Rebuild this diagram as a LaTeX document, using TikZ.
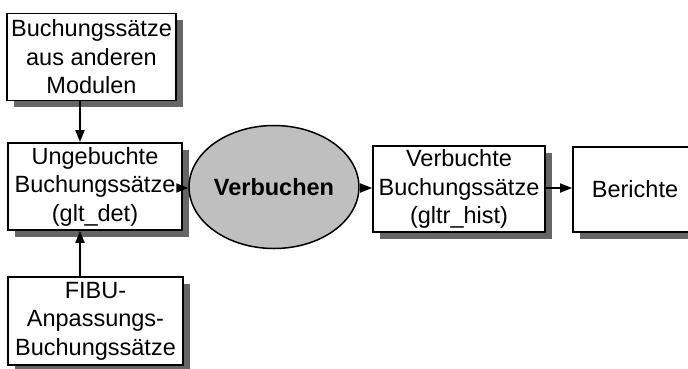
\documentclass[tikz,border=0pt]{standalone}
\usepackage{fontspec}
\setmainfont{Liberation Sans}
\usetikzlibrary{arrows.meta,shapes.geometric,shadows}
\begin{document}
\begin{tikzpicture}[x=1pt,y=-1pt,
  txt/.style={font=\fontsize{23.5}{28.5}\selectfont, align=center},
  box/.style={txt, draw, line width=1.8pt, fill=white, inner sep=0pt,
    drop shadow={shadow xshift=6.5pt, shadow yshift=-6.5pt, fill=black!60, opacity=1}},
  proc/.style={ellipse, draw, line width=1.5pt, fill=black!25, inner sep=0pt,
    font=\fontsize{23.5}{28.5}\selectfont\bfseries},
  arr/.style={line width=1.8pt, -{Triangle[length=12pt,width=9pt]}}]
\useasboundingbox (0,0) rectangle (688,368);
\clip (0,0) rectangle (688,368);
\fill[white] (0,0) rectangle (688,368);
\node[box, minimum width=169pt, minimum height=87pt] (top) at (91.5,57) {Buchungssätze\\aus anderen\\Modulen};
\node[box, minimum width=174pt, minimum height=87pt] (mid) at (95,186.5) {Ungebuchte\\Buchungssätze\\(glt\_det)};
\node[box, minimum width=175pt, minimum height=88pt] (bot) at (95.5,321) {FIBU-\\Anpassungs-\\Buchungssätze};
\node[proc, minimum width=138pt, minimum height=123pt] (verb) at (274,187) {Verbuchen};
\node[box, minimum width=172pt, minimum height=86pt] (hist) at (459,189) {Verbuchte\\Buchungssätze\\(gltr\_hist)};
\node[box, minimum width=124pt, minimum height=85pt] (ber) at (635,189.5) {Berichte};
\coordinate (ax) at (80,0);
\coordinate (ay) at (0,188);
\draw[arr] (top.south -| ax) -- (mid.north -| ax);
\draw[arr] (bot.north -| ax) -- (mid.south -| ax);
\draw[arr] (mid.east |- ay) -- (verb.west |- ay);
\draw[arr] (verb.east |- ay) -- (hist.west |- ay);
\draw[arr] (hist.east |- ay) -- (ber.west |- ay);
\end{tikzpicture}
\end{document}
